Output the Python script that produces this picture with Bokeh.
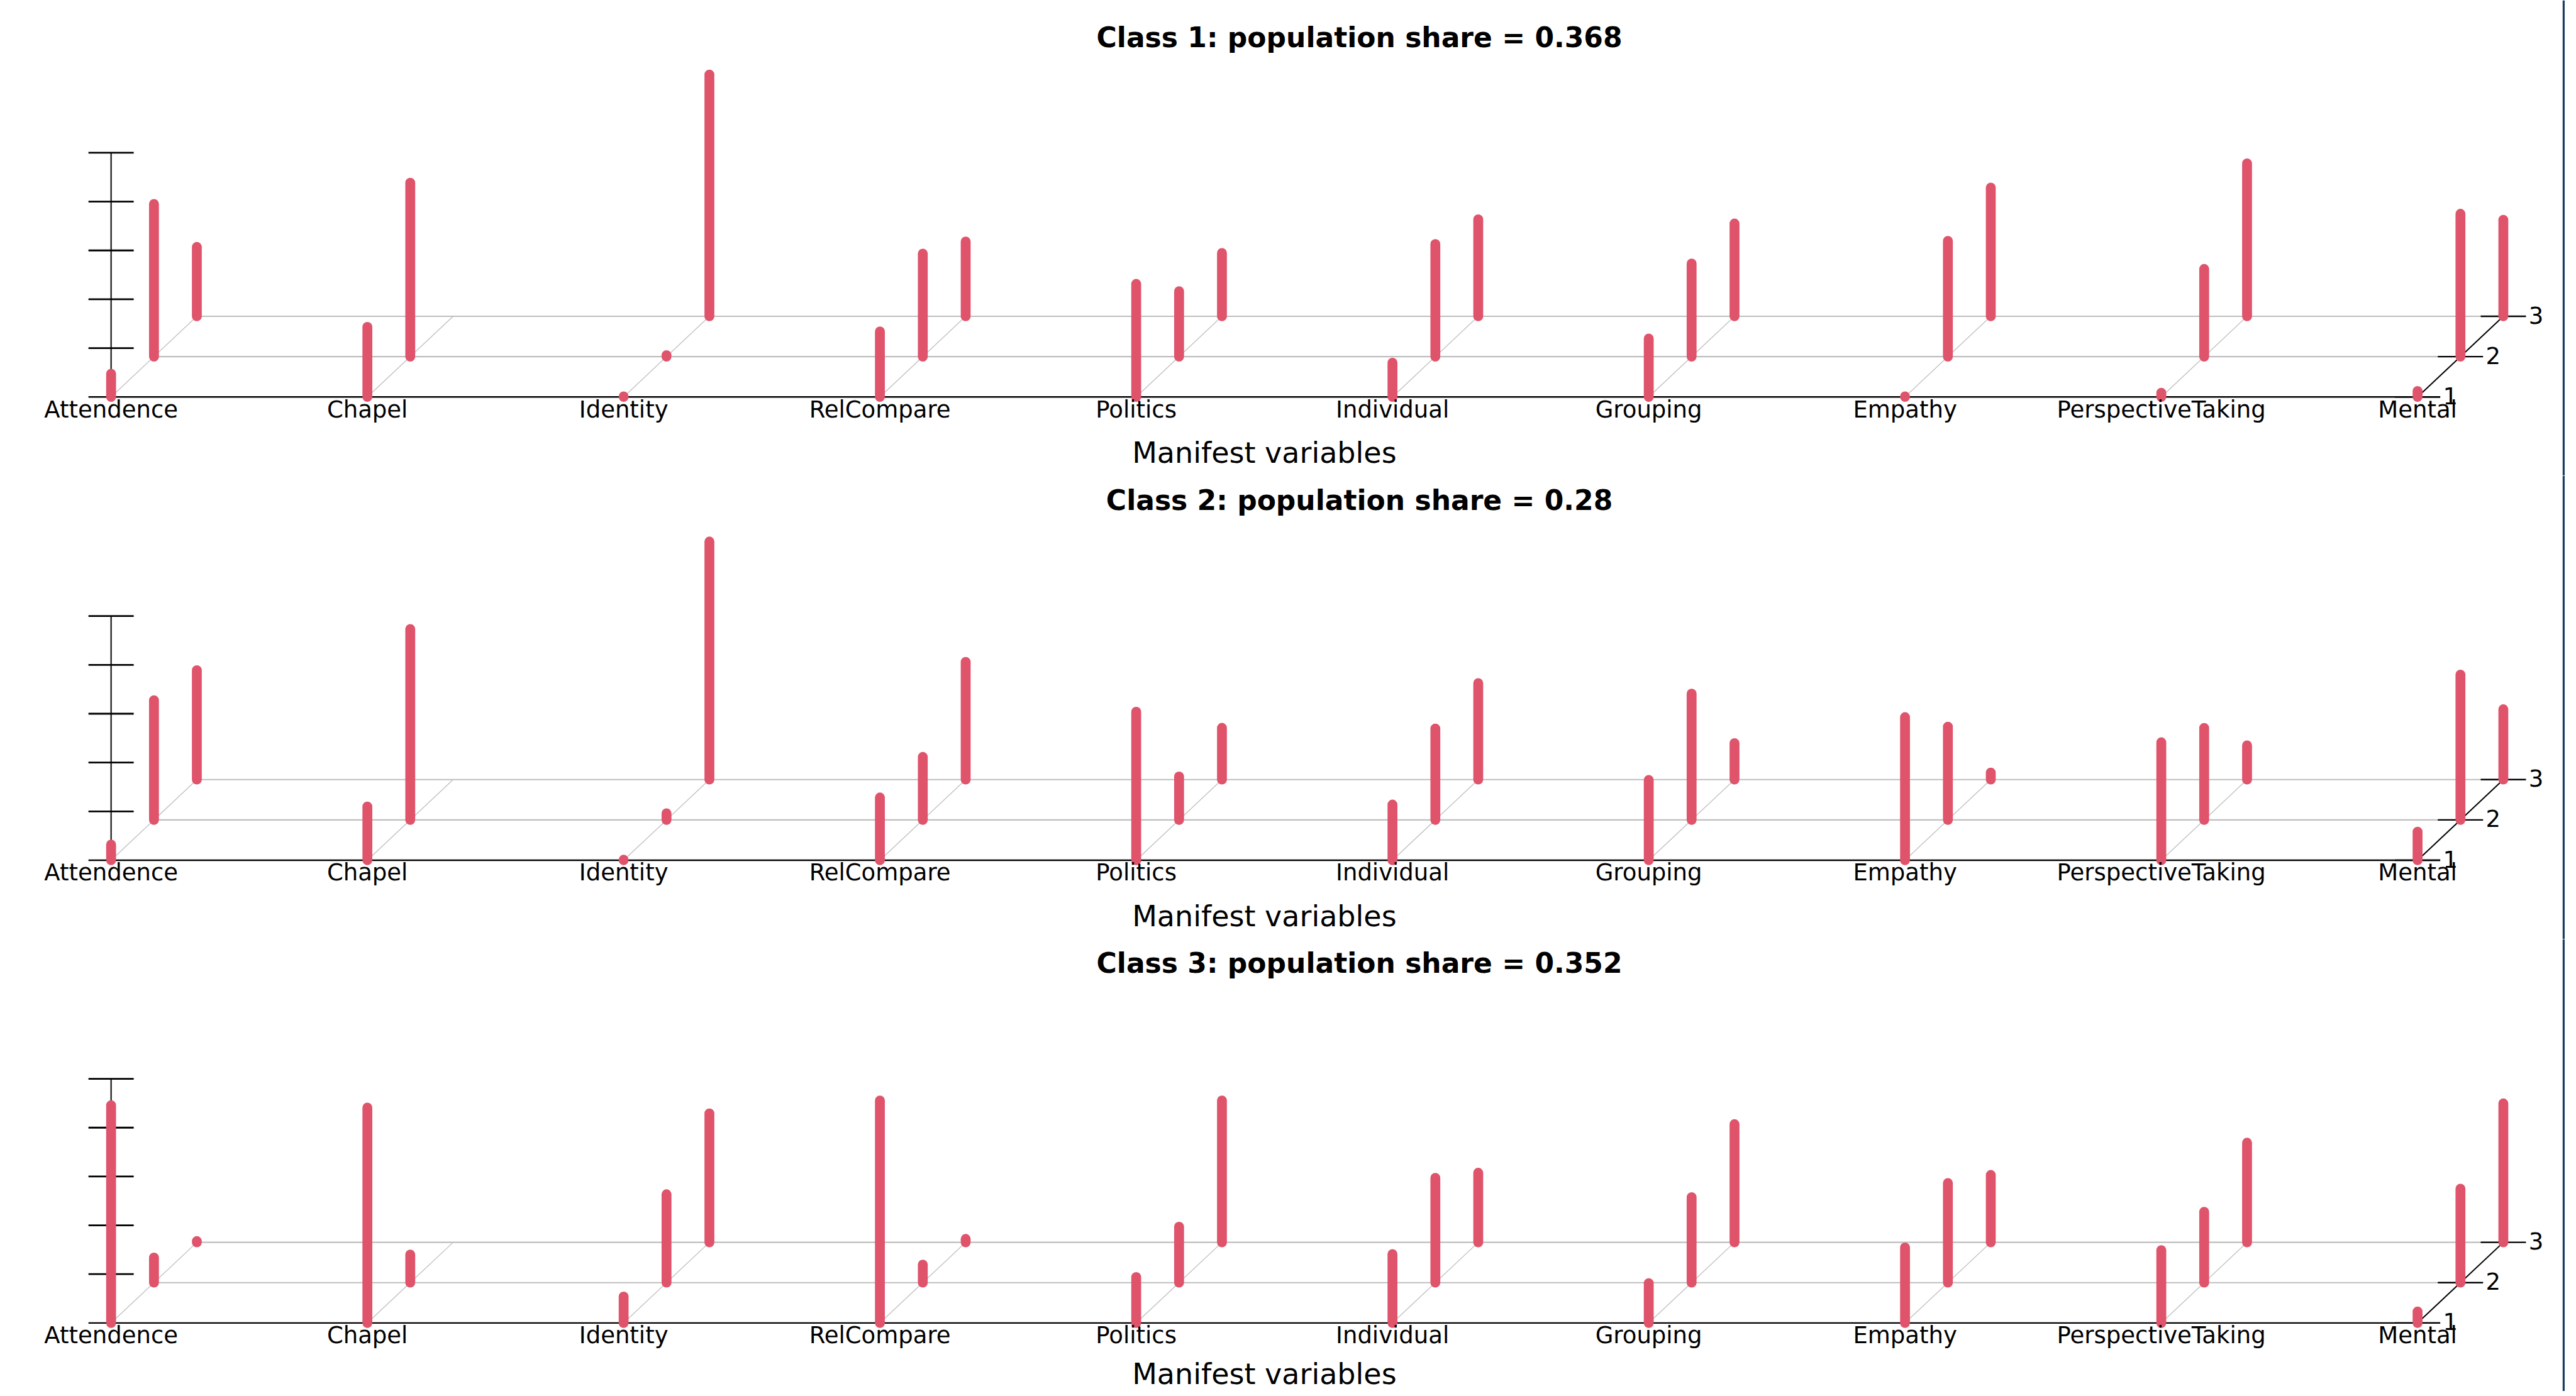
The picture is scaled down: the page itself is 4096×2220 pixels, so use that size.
import math
from bokeh.plotting import figure
from bokeh.layouts import column
from bokeh.models import Range1d, ColumnDataSource, Span
from bokeh.core.properties import value
from bokeh.embed import file_html
from bokeh.resources import INLINE

nan = float("nan")

# ---------------- data ----------------
variables = ["Attendence", "Chapel", "Identity", "RelCompare", "Politics",
             "Individual", "Grouping", "Empathy", "PerspectiveTaking", "Mental"]
outcome_labels = ["1", "2", "3"]
class_titles = ["Class 1: population share = 0.368",
                "Class 2: population share = 0.28",
                "Class 3: population share = 0.352"]
x_axis_label = "Manifest variables"

class1_out1 = [0.095, 0.287, 0.002, 0.268, 0.463, 0.140, 0.239, 0.002, 0.017, 0.024]
class1_out2 = [0.625, 0.712, 0.006, 0.422, 0.268, 0.461, 0.381, 0.474, 0.359, 0.585]
class1_out3 = [0.284, nan,   0.990, 0.306, 0.259, 0.397, 0.380, 0.527, 0.626, 0.395]

class2_out1 = [0.064, 0.220, 0.002, 0.257, 0.608, 0.228, 0.329, 0.586, 0.483, 0.117]
class2_out2 = [0.490, 0.782, 0.027, 0.258, 0.178, 0.374, 0.517, 0.382, 0.377, 0.595]
class2_out3 = [0.448, nan,   0.975, 0.482, 0.212, 0.395, 0.149, 0.029, 0.140, 0.288]

class3_out1 = [0.892, 0.882, 0.108, 0.911, 0.188, 0.282, 0.163, 0.309, 0.298, 0.047]
class3_out2 = [0.103, 0.115, 0.362, 0.074, 0.229, 0.429, 0.350, 0.408, 0.290, 0.385]
class3_out3 = [0.005, nan,   0.528, 0.014, 0.581, 0.285, 0.484, 0.276, 0.408, 0.569]

z_ticks = [0.2, 0.4, 0.6, 0.8, 1.0]

classes = [
    (class1_out1, class1_out2, class1_out3),
    (class2_out1, class2_out2, class2_out3),
    (class3_out1, class3_out2, class3_out3),
]

# ---------------- geometry / style ----------------
S = 0.947
W = 4088
HEIGHTS = [756, 737, 719]
TOPS_REF = [0.0, 798.3, 1576.5]
BASE_REF = [666.0, 1444.0, 2221.0]
XLABEL_DROP = [94.0, 94.0, 86.0]   # reference px below the baseline
CAT_PX = 430.3      # reference px per variable
Z_PX = 410.0        # reference px per unit probability
X0_PX = 186.0       # reference x of first variable
DX = 72.0 / CAT_PX  # depth shift (variable units)
DY = 67.7 / Z_PX    # depth shift (probability units)

FONT = "DejaVu Sans"
BAR_COLOR = "#DF536B"
GRAY = "#BEBEBE"


def hx(px):
    return px / CAT_PX


def vy(px):
    return px / Z_PX


def make_panel(k):
    H = HEIGHTS[k]
    x_start = -X0_PX / CAT_PX
    x_end = x_start + (W / S) / CAT_PX
    y_end = (BASE_REF[k] - TOPS_REF[k]) / Z_PX
    y_start = y_end - (H / S) / Z_PX
    p = figure(width=W, height=H,
               x_range=Range1d(x_start, x_end), y_range=Range1d(y_start, y_end),
               output_backend="svg", toolbar_location=None,
               x_axis_type=None, y_axis_type=None, min_border=0,
               outline_line_color=None, background_fill_color="white",
               border_fill_color="white")

    n = len(variables)
    ndepth = len(outcome_labels)
    last = ndepth - 1

    # floor lines (depth 2, 3)
    fx0, fy0, fx1, fy1 = [], [], [], []
    for d in range(1, ndepth):
        fx0.append(d * DX); fy0.append(d * DY)
        fx1.append((n - 1) + d * DX); fy1.append(d * DY)
    p.segment(x0=fx0, y0=fy0, x1=fx1, y1=fy1, line_color=GRAY, line_width=2.2)

    # per-variable diagonals
    idx = list(range(n))
    p.segment(x0=idx, y0=[0.0] * n, x1=[i + last * DX for i in idx],
              y1=[last * DY] * n, line_color=GRAY, line_width=1.3)

    # front axis line
    p.segment(x0=[-hx(38)], y0=[0.0], x1=[(n - 1) + hx(38)], y1=[0.0],
              line_color="black", line_width=2.4)

    # vertical probability axis
    p.segment(x0=[0.0], y0=[0.0], x1=[0.0], y1=[max(z_ticks)],
              line_color="black", line_width=2.0)
    p.segment(x0=[-hx(38)] * len(z_ticks), y0=z_ticks,
              x1=[hx(38)] * len(z_ticks), y1=z_ticks,
              line_color="black", line_width=2.8)

    # depth axis on the right
    xr = n - 1
    p.segment(x0=[xr], y0=[0.0], x1=[xr + last * DX], y1=[last * DY],
              line_color="black", line_width=2.0)
    dts = list(range(ndepth))
    p.segment(x0=[xr + d * DX - hx(38) for d in dts], y0=[d * DY for d in dts],
              x1=[xr + d * DX + hx(38) for d in dts], y1=[d * DY for d in dts],
              line_color="black", line_width=2.4)
    p.text(x=[xr + d * DX + hx(55) for d in dts],
           y=[d * DY + vy(2) for d in dts], text=outcome_labels,
           text_font=value(FONT), text_font_size="37px", text_color="black",
           text_align="center", text_baseline="alphabetic")

    # bars
    bx, by0, by1 = [], [], []
    for d, vals in enumerate(classes[k]):
        for i, v in enumerate(vals):
            if v is None or (isinstance(v, float) and math.isnan(v)):
                continue
            bx.append(i + d * DX)
            by0.append(d * DY)
            by1.append(d * DY + v)
    src = ColumnDataSource(dict(x=bx, y0=by0, y1=by1))
    p.segment(x0="x", y0="y0", x1="x", y1="y1", source=src,
              line_color=BAR_COLOR, line_width=15.7, line_cap="round")

    # variable labels
    p.text(x=idx, y=[-vy(21)] * n, text=variables,
           text_font=value(FONT), text_font_size="37px", text_color="black",
           text_align="center", text_baseline="alphabetic")

    # x axis label
    p.text(x=[(n - 1) / 2.0], y=[-vy(XLABEL_DROP[k])], text=[x_axis_label],
           text_font=value(FONT), text_font_size="46px", text_color="black",
           text_align="center", text_baseline="alphabetic")

    # title
    p.text(x=[hx(2282 - X0_PX)], y=[vy(604)], text=[class_titles[k]],
           text_font=value(FONT), text_font_size="44px", text_font_style="bold",
           text_color="black", text_align="center", text_baseline="alphabetic")

    # right border line
    p.add_layout(Span(location=hx(4304 - X0_PX), dimension="height",
                      line_color="#1b3a66", line_width=3.2))
    return p


panels = [make_panel(k) for k in range(3)]
layout = column(*panels, spacing=0)

open("out.html", "w").write(file_html(layout, INLINE))
